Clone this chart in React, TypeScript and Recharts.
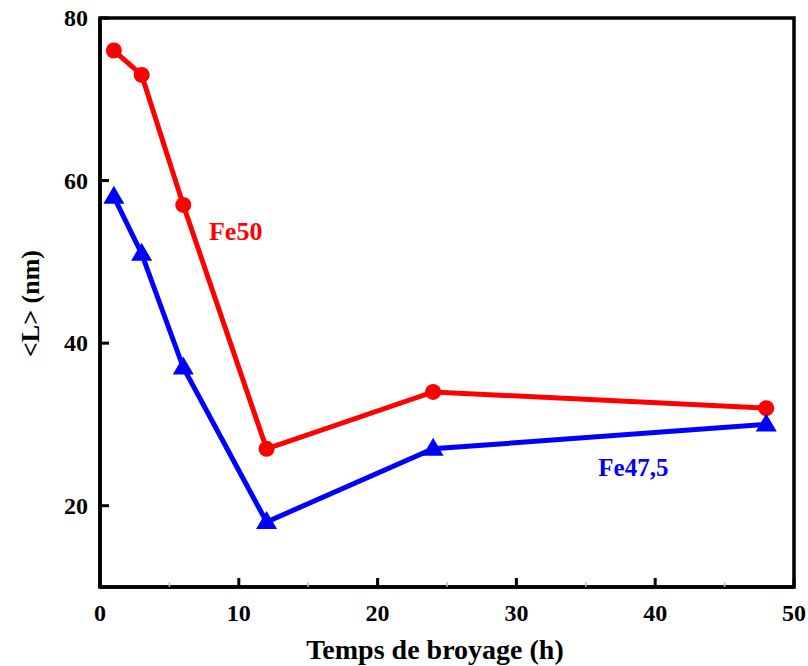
import { LineChart, Line, XAxis, YAxis, ReferenceArea, ReferenceDot } from "recharts";

const hours = [1, 3, 6, 12, 24, 48];
const fe50 = [76, 73, 57, 27, 34, 32];
const fe475 = [58, 51, 37, 18, 27, 30];
const xTicks = [0, 5, 10, 15, 20, 25, 30, 35, 40, 45, 50];
const yTicks = [20, 40, 60, 80];

const data = hours.map((h, i) => ({ h, fe50: fe50[i], fe475: fe475[i] }));

const FONT = "Liberation Serif";

const XTick = ({ x, y, payload }: any) => {
  const major = payload.value % 10 === 0;
  return (
    <g>
      <line x1={x} x2={x} y1={y} y2={y - (major ? 9 : 5)} stroke={major ? "#000" : "#bbb"} strokeWidth={major ? 3 : 1.5} />
      {major && (
        <text x={x} y={y + 34} textAnchor="middle" fontFamily={FONT} fontWeight="bold" fontSize={24} fill="#000">
          {payload.value}
        </text>
      )}
    </g>
  );
};

const YTick = ({ x, y, payload }: any) => (
  <g>
    <line x1={x} x2={x + 9} y1={y} y2={y} stroke="#000" strokeWidth={3} />
    <text x={x - 12} y={y + 8} textAnchor="end" fontFamily={FONT} fontWeight="bold" fontSize={24} fill="#000">
      {payload.value}
    </text>
  </g>
);

const Triangle = ({ cx, cy }: any) => {
  if (cx == null || cy == null) return null;
  return <polygon points={`${cx},${cy - 11} ${cx - 10.5},${cy + 7} ${cx + 10.5},${cy + 7}`} fill="#0000ff" />;
};

// plain svg text for labels so the serif font sticks
const xTitle = ({ viewBox }: any) => (
  <text x={viewBox.x + viewBox.width / 2 - 12} y={viewBox.y + viewBox.height - 7} textAnchor="middle"
    fontFamily={FONT} fontWeight="bold" fontSize={28} fill="#000">
    Temps de broyage (h)
  </text>
);

const yTitle = ({ viewBox }: any) => {
  const cx = 30;
  const cy = viewBox.y + viewBox.height / 2 + 1;
  return (
    <text x={cx} y={cy} transform={`rotate(-90 ${cx} ${cy})`} textAnchor="middle" dominantBaseline="central"
      fontFamily={FONT} fontWeight="bold" fontSize={26} fill="#000">
      {"<L> (nm)"}
    </text>
  );
};

const seriesLabel = (text: string, color: string, size: number) => ({ viewBox }: any) => (
  <text x={viewBox.x} y={viewBox.y + 8} fontFamily={FONT} fontWeight="bold" fontSize={size} fill={color}>
    {text}
  </text>
);

export default function App() {
  return (
    <div style={{ position: "absolute", left: 0, top: 0, fontFamily: FONT }}>
      <LineChart width={808} height={666} data={data} margin={{ top: 18, right: 14, left: 0, bottom: 0 }}>
        <XAxis
          dataKey="h"
          type="number"
          domain={[0, 50]}
          ticks={xTicks}
          interval={0}
          height={79}
          tickSize={0}
          tickMargin={0}
          tick={<XTick />}
          axisLine={{ stroke: "#000", strokeWidth: 3.5 }}
          tickLine={false}
          label={{ content: xTitle }}
        />
        <YAxis
          type="number"
          domain={[10, 80]}
          ticks={yTicks}
          interval={0}
          width={100}
          tickSize={0}
          tickMargin={0}
          tick={<YTick />}
          axisLine={{ stroke: "#000", strokeWidth: 3.5 }}
          tickLine={false}
          label={{ content: yTitle }}
        />
        <ReferenceArea x1={0} x2={50} y1={10} y2={80} fill="none" stroke="#000" strokeWidth={3.5} ifOverflow="visible" />
        <Line
          dataKey="fe50"
          stroke="#ff0000"
          strokeWidth={5}
          dot={{ r: 8, fill: "#ff0000", stroke: "#ff0000", strokeWidth: 0 }}
          isAnimationActive={false}
        />
        <Line
          dataKey="fe475"
          stroke="#0000ff"
          strokeWidth={5}
          dot={<Triangle />}
          isAnimationActive={false}
        />
        <ReferenceDot x={7.85} y={53.7} r={0} stroke="none" label={{ content: seriesLabel("Fe50", "#ff0000", 26) }} />
        <ReferenceDot x={35.9} y={24.7} r={0} stroke="none" label={{ content: seriesLabel("Fe47,5", "#0000ff", 25) }} />
      </LineChart>
    </div>
  );
}
